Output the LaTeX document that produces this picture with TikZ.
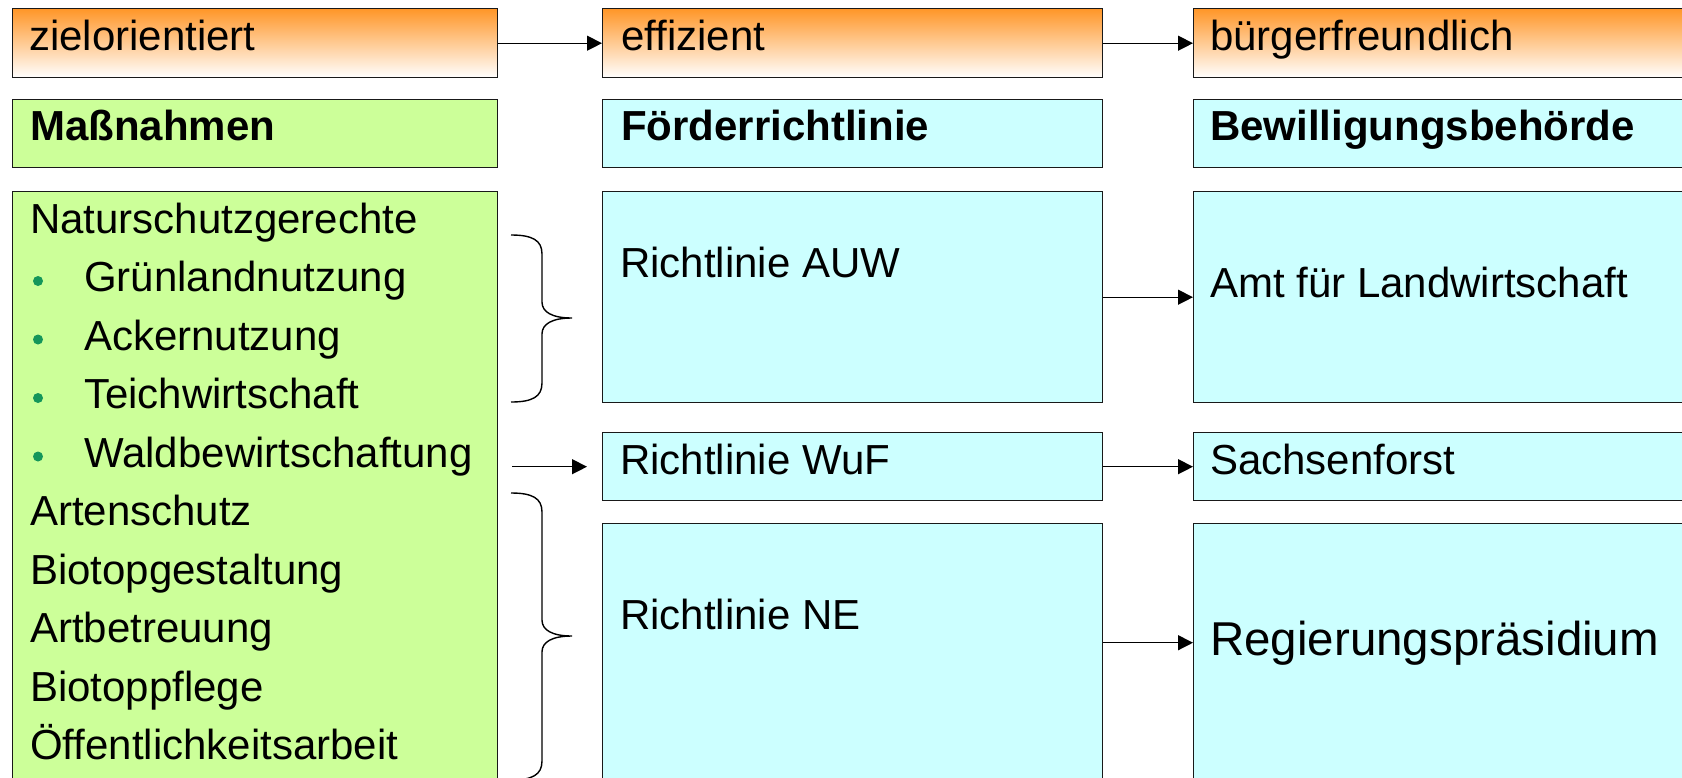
\documentclass[tikz,border=0pt]{standalone}
\usepackage{fontspec}
\setmainfont{Liberation Sans}
\usetikzlibrary{arrows.meta, positioning}

\definecolor{kopforange}{RGB}{255,150,40}
\definecolor{massgruen}{RGB}{204,255,153}
\definecolor{amtcyan}{RGB}{204,255,255}
\definecolor{punktgruen}{RGB}{20,150,90}

\tikzset{
  kasten/.style={draw=black!90, line width=1.4pt, inner sep=0pt, anchor=north west},
  kopfbox/.style={kasten, top color=kopforange, bottom color=white},
  gruenbox/.style={kasten, fill=massgruen},
  amtbox/.style={kasten, fill=amtcyan},
  txt/.style={anchor=base west, inner sep=0pt, font=\fontsize{42pt}{50pt}\selectfont},
  punkt/.style={circle, fill=punktgruen, inner sep=0pt, minimum size=10pt},
  pfeil/.style={-{Triangle[length=15pt, width=15pt]}, line width=1.3pt},
  klammer/.style={line width=1.4pt},
}

\begin{document}
\begin{tikzpicture}[x=1pt, y=-1pt]

\useasboundingbox (0,0) rectangle (1682,777);
\clip (0,0) rectangle (1682,777);

% top row
\node[kopfbox, minimum width=485pt, minimum height=69pt] (ziel)    at (12,   8) {};
\node[kopfbox, minimum width=500pt, minimum height=69pt] (effi)    at (602,  8) {};
\node[kopfbox, minimum width=520pt, minimum height=69pt] (buerger) at (1193, 8) {};

% second row
\node[gruenbox, minimum width=485pt, minimum height=68pt] (massn)   at (12,   99) {};
\node[amtbox,   minimum width=500pt, minimum height=68pt] (foerder) at (602,  99) {};
\node[amtbox,   minimum width=520pt, minimum height=68pt] (bewill)  at (1193, 99) {};

% lower boxes from top to bottom
\node[gruenbox, minimum width=485pt, minimum height=620pt] (liste)   at (12,   191) {};
\node[amtbox,   minimum width=500pt, minimum height=211pt] (auw)     at (602,  191) {};
\node[amtbox,   minimum width=500pt, minimum height=68pt]  (wuf)     at (602,  432) {};
\node[amtbox,   minimum width=500pt, minimum height=290pt] (ne)      at (602,  523) {};
\node[amtbox,   minimum width=520pt, minimum height=211pt] (amt)     at (1193, 191) {};
\node[amtbox,   minimum width=520pt, minimum height=68pt]  (sachsen) at (1193, 432) {};
\node[amtbox,   minimum width=520pt, minimum height=290pt] (rp)      at (1193, 523) {};

% headings
\node[txt] (tziel)    at (29,   50) {zielorientiert};
\node[txt] (teffi)    at (621,  50) {effizient};
\node[txt] (tbuerger) at (1210, 50) {bürgerfreundlich};
\node[txt] (tmassn)   at (30,   140) {\bfseries Maßnahmen};
\node[txt] (tfoerder) at (621,  140) {\bfseries Förderrichtlinie};
\node[txt] (tbewill)  at (1210, 140) {\bfseries Bewilligungsbehörde};

% list from top to bottom
\node[txt] (tnatur)   at (30, 233)   {Naturschutzgerechte};
\node[txt] (tgruen)   at (84, 291.5) {Grünlandnutzung};
\node[txt] (tacker)   at (84, 350)   {Ackernutzung};
\node[txt] (tteich)   at (84, 408.5) {Teichwirtschaft};
\node[txt] (twald)    at (84, 467)   {Waldbewirtschaftung};
\node[txt] (tarten)   at (30, 525.5) {Artenschutz};
\node[txt] (tgestalt) at (30, 584)   {Biotopgestaltung};
\node[txt] (tbetreu)  at (30, 642.5) {Artbetreuung};
\node[txt] (tpflege)  at (30, 701)   {Biotoppflege};
\node[txt] (toeffent) at (30, 759.5) {Öffentlichkeitsarbeit};

% bullets
\node[punkt] (pgruen) at (38, 281)   {};
\node[punkt] (packer) at (38, 339.5) {};
\node[punkt] (pteich) at (38, 398)   {};
\node[punkt] (pwald)  at (38, 456.5) {};

% texts in the lower boxes
\node[txt] (tauw)     at (620,  277) {Richtlinie AUW};
\node[txt] (twuf)     at (620,  474) {Richtlinie WuF};
\node[txt] (tne)      at (620,  629) {Richtlinie NE};
\node[txt] (tamt)     at (1210, 297) {Amt für Landwirtschaft};
\node[txt] (tsachsen) at (1210, 474) {Sachsenforst};
\node[txt, font=\fontsize{47.5pt}{56pt}\selectfont] (trp) at (1210, 655) {Regierungspräsidium};

% arrows
\draw[pfeil] (ziel.east) -- (effi.west);
\draw[pfeil] (effi.east) -- (buerger.west);
\draw[pfeil] (auw.east) -- (amt.west);
\draw[pfeil] (wuf.east) -- (sachsen.west);
\draw[pfeil] (ne.east |- trp.west) -- (rp.west |- trp.west);
\draw[pfeil, shorten <=14pt, shorten >=15pt] (liste.east |- wuf.west) -- (wuf.west);

% braces
\draw[klammer] (511,235) .. controls (532,235) and (542,240) .. (542,254) -- (542,302)
  .. controls (542,312) and (552,318) .. (572,318)
  .. controls (552,318) and (542,324) .. (542,334) -- (542,383)
  .. controls (542,397) and (532,402) .. (511,402);
\draw[klammer] (511,493) .. controls (532,493) and (542,498) .. (542,512) -- (542,620)
  .. controls (542,630) and (552,636) .. (572,636)
  .. controls (552,636) and (542,642) .. (542,652) -- (542,761)
  .. controls (542,775) and (532,780) .. (511,780);

\end{tikzpicture}
\end{document}
